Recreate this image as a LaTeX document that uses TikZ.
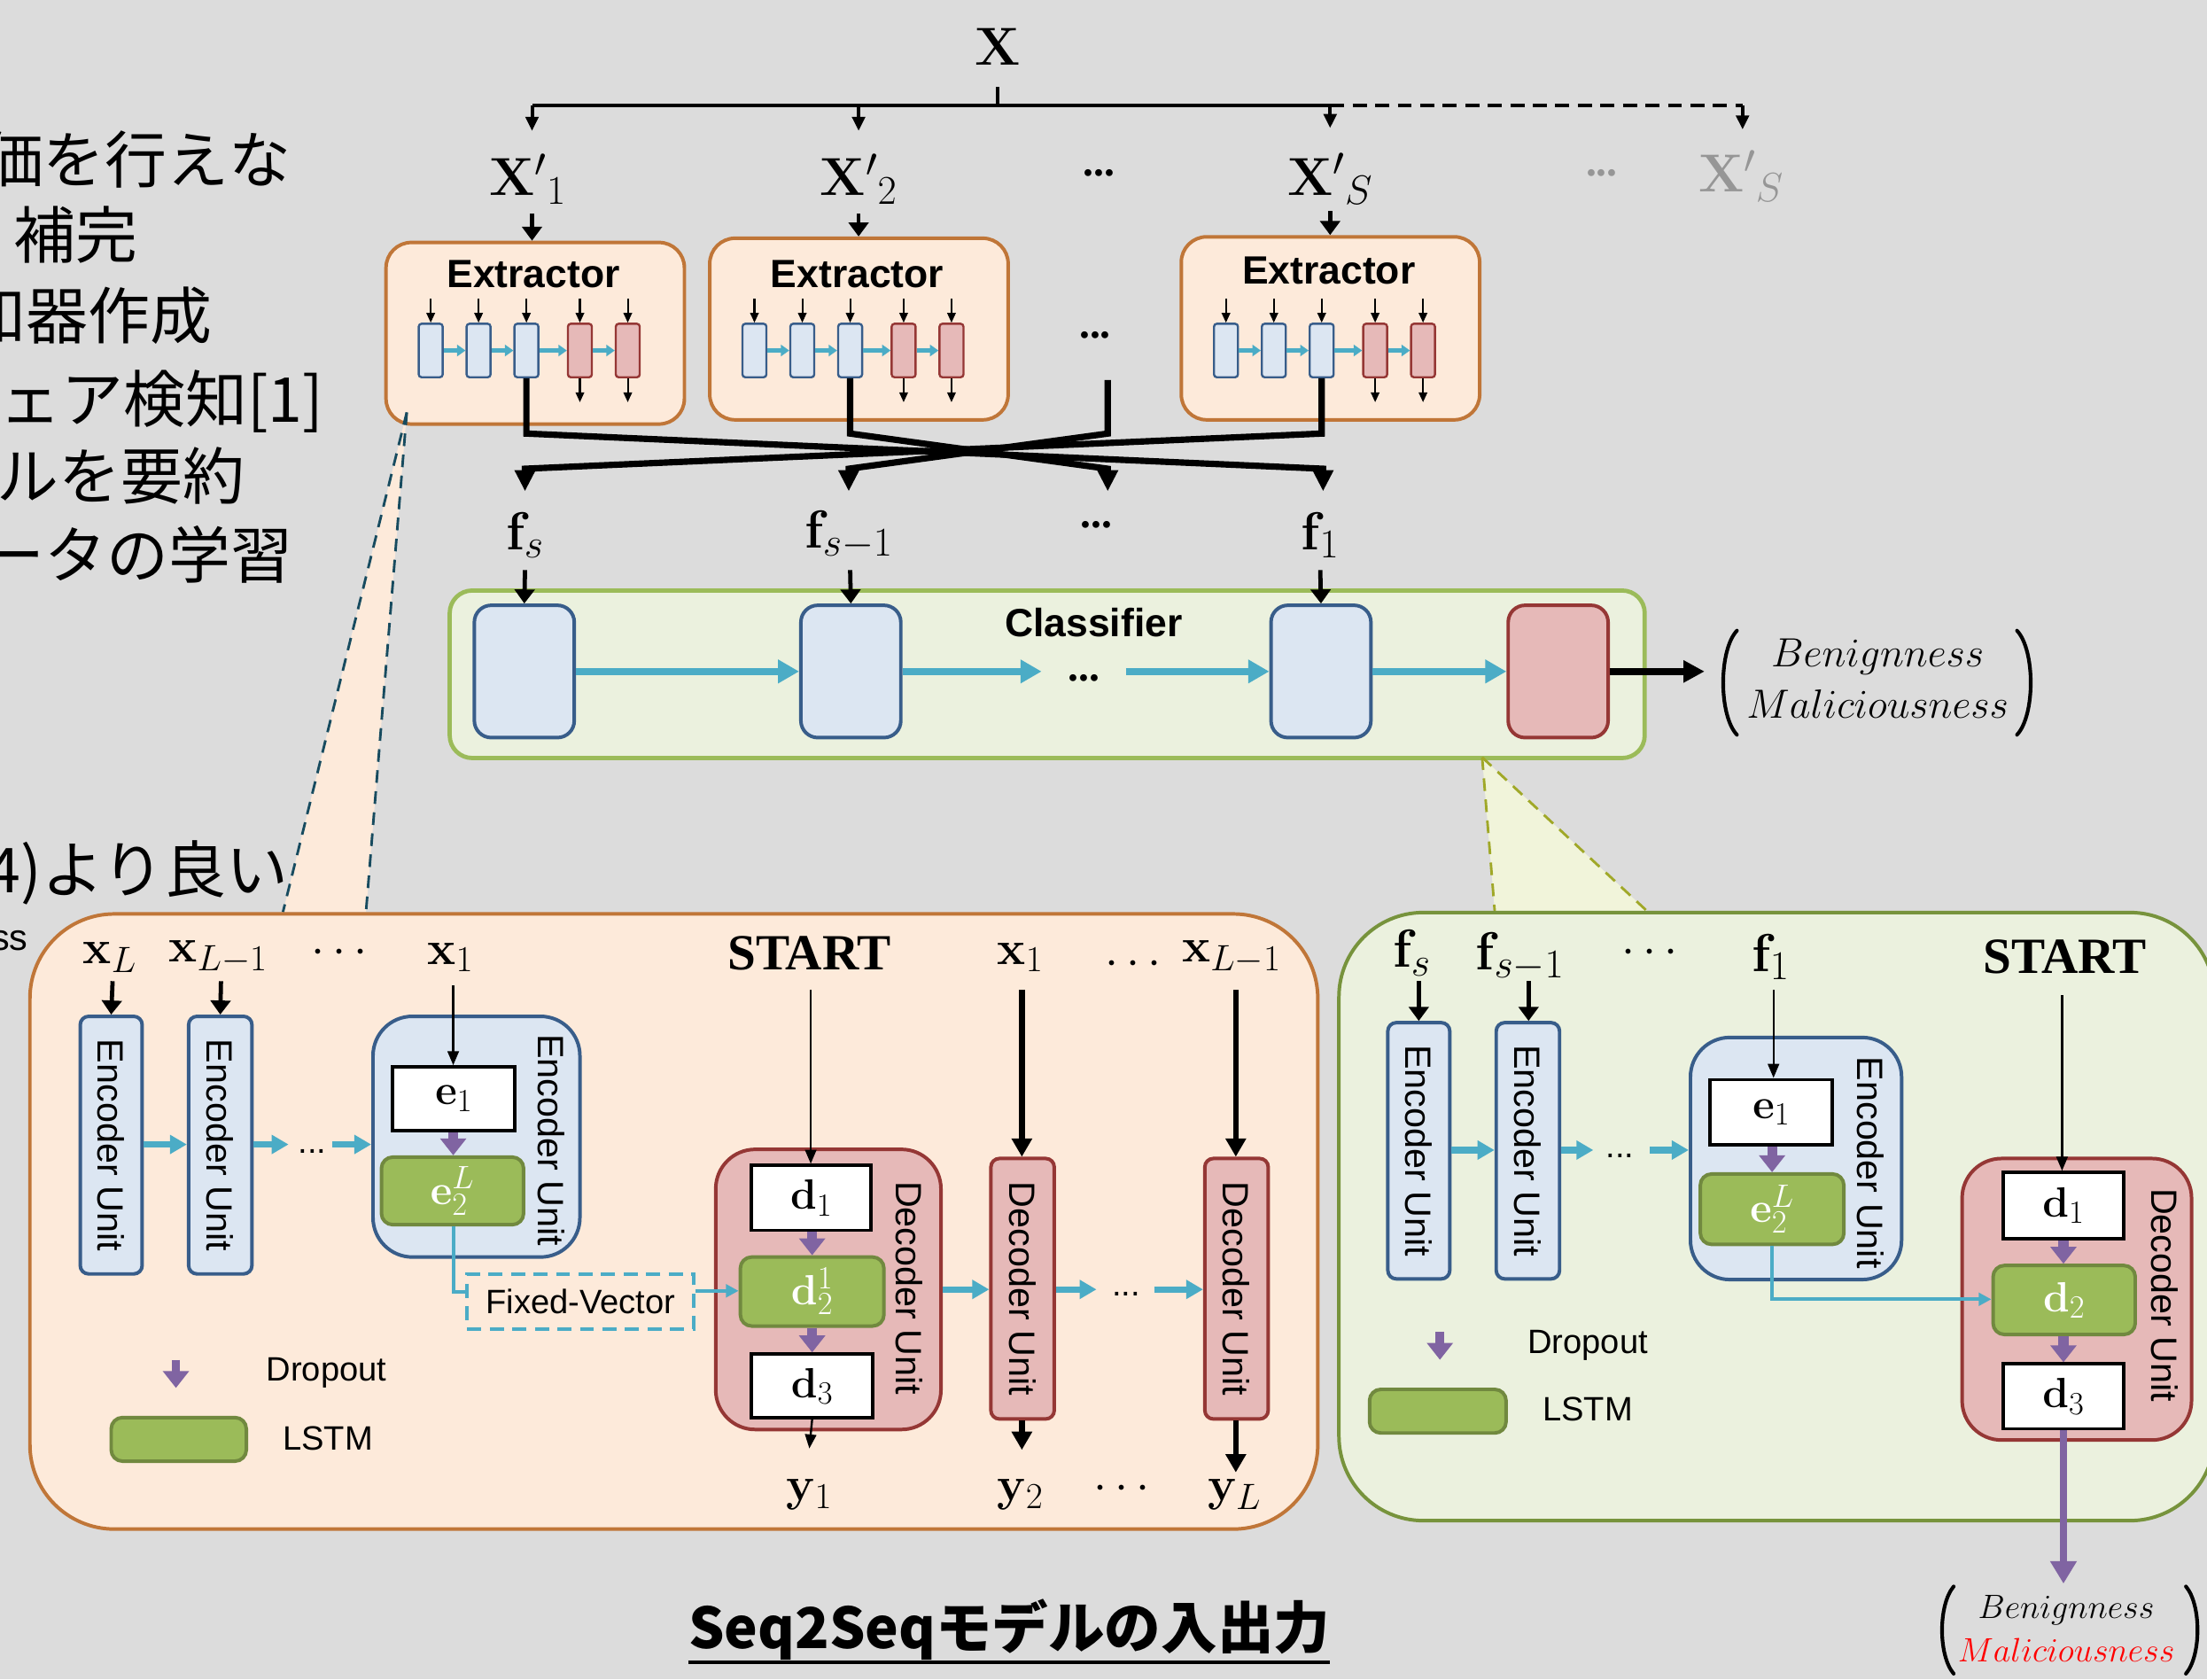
\RequirePackage{fix-cm}
\documentclass[tikz,border=0pt]{standalone}
\usepackage[no-math]{fontspec}
\usepackage{graphicx}
\setmainfont{Liberation Sans}
\newfontfamily\jpfont{Noto Sans CJK JP}
\newfontfamily\serifm{Liberation Serif}
\usetikzlibrary{arrows.meta}
\DeclareMathSizes{38}{38}{29}{22}
\DeclareMathSizes{34}{34}{26}{20}
\DeclareMathSizes{30}{30}{23}{18}
\DeclareMathSizes{29}{29}{22}{17}
\DeclareMathSizes{24}{24}{18}{14}

\definecolor{bgc}{RGB}{220,220,220}
\definecolor{peach}{RGB}{253,234,218}
\definecolor{orangeB}{RGB}{192,118,56}
\definecolor{greenF}{RGB}{235,241,222}
\definecolor{greenB}{RGB}{155,187,89}
\definecolor{greenD}{RGB}{119,147,60}
\definecolor{lstmF}{RGB}{155,187,89}
\definecolor{lstmB}{RGB}{113,137,63}
\definecolor{blueF}{RGB}{220,230,242}
\definecolor{blueB}{RGB}{56,93,138}
\definecolor{redF}{RGB}{230,185,184}
\definecolor{redB}{RGB}{149,55,53}
\definecolor{cyanA}{RGB}{75,172,198}
\definecolor{purpA}{RGB}{128,100,162}
\definecolor{tealD}{RGB}{23,75,95}
\definecolor{oliveD}{RGB}{160,168,40}
\definecolor{fanG}{RGB}{241,244,218}
\definecolor{greyX}{RGB}{150,150,150}

\newcommand\fsz[1]{\fontsize{#1}{#1}\selectfont}
\newcommand\bdots{{\serifm\bfseries ...}}

\begin{document}
\begin{tikzpicture}[x=1pt,y=-1pt,
  lab/.style={inner sep=0pt,font=\fsz{38}},
  labs/.style={inner sep=0pt,font=\fsz{34}},
  sans/.style={inner sep=0pt,font=\fsz{24}},
  jp/.style={inner sep=0pt,font=\jpfont\fsz{44},anchor=east},
  extbox/.style={draw=orangeB,fill=peach,line width=2.5pt,rounded corners=18pt,minimum width=212pt,anchor=north west,inner sep=0pt},
  mblue/.style={draw=blueB,fill=blueF,line width=1.5pt,rounded corners=2pt,minimum width=17pt,minimum height=38pt,inner sep=0pt},
  mred/.style={mblue,draw=redB,fill=redF},
  cblue/.style={draw=blueB,fill=blueF,line width=2.5pt,rounded corners=12pt,minimum width=71pt,minimum height=94pt,inner sep=0pt},
  cred/.style={cblue,draw=redB,fill=redF},
  encsmall/.style={draw=blueB,fill=blueF,line width=2.5pt,rounded corners=6pt,minimum width=44pt,minimum height=183pt,inner sep=0pt,font=\fsz{26}},
  decsmall/.style={encsmall,draw=redB,fill=redF},
  bigenc/.style={draw=blueB,fill=blueF,line width=2.5pt,rounded corners=28pt,inner sep=0pt},
  bigdec/.style={bigenc,draw=redB,fill=redF},
  whitebox/.style={draw=black,fill=white,line width=2.5pt,inner sep=0pt,font=\fsz{30}},
  lstm/.style={draw=lstmB,fill=lstmF,line width=2.5pt,rounded corners=8pt,inner sep=0pt,font=\fsz{30},text=white},
  unitlab/.style={inner sep=0pt,font=\fsz{26}},
  paren/.style={line width=2.6pt,line cap=round},
  tree/.style={line width=2.5pt},
  treearr/.style={line width=2.5pt,-{Triangle[width=9pt,length=10pt]}},
  tinyarr/.style={line width=1.3pt,-{Triangle[width=6pt,length=7pt]}},
  tinycy/.style={draw=cyanA,line width=3pt,-{Triangle[width=8pt,length=6pt]}},
  thin/.style={line width=1.5pt,-{Triangle[width=8pt,length=10pt]}},
  medarr/.style={line width=3pt,-{Triangle[width=14pt,length=10pt]}},
  thickarr/.style={line width=4pt,-{Triangle[width=14pt,length=13pt]}},
  crossarr/.style={line width=4.5pt,line join=miter,-{Triangle[width=14pt,length=15pt]}},
  cyarr/.style={draw=cyanA,line width=4.5pt,-{Triangle[width=13pt,length=12pt]}},
  cyarrL/.style={draw=cyanA,line width=5pt,-{Triangle[width=16pt,length=15pt]}},
  cyline/.style={draw=cyanA,line width=2.5pt},
  cythin/.style={cyline,-{Triangle[width=9pt,length=9pt]}},
  purarr/.style={draw=purpA,line width=7pt,-{Triangle[width=18pt,length=12pt]}},
]
\useasboundingbox (0,0) rectangle (1568,1193);
\clip (0,0) rectangle (1568,1193);
\fill[bgc] (0,0) rectangle (1568,1193);

% ---------- input splitting ----------
\node[lab] (X) at (709,33) {$\mathbf{X}$};
\coordinate (tj) at (709,75);
\coordinate (t1) at (378,75);
\coordinate (t2) at (610,75);
\coordinate (t3) at (945,75);
\coordinate (t4) at (1238,75);
\draw[tree] (709,62) -- (tj);
\draw[tree] (t1) -- (t3);
\draw[tree,dash pattern=on 10pt off 6pt] (t3) -- (t4);
\draw[treearr] (t1) -- (378,93);
\draw[treearr] (t2) -- (610,93);
\draw[treearr] (t3) -- (945,91);
\draw[treearr] (t4) -- (1238,92);

\node[lab] (xp1) at (375,127) {${\mathbf{X}'}_1$};
\node[lab] (xp2) at (610,127) {${\mathbf{X}'}_2$};
\node[inner sep=0pt,font=\fsz{30}] (xpd) at (781,123) {\bdots};
\node[lab] (xps) at (945,127) {${\mathbf{X}'}_S$};
\node[inner sep=0pt,font=\fsz{30},text=greyX] (xpd2) at (1138,123) {\bdots};
\node[lab,text=greyX] (xps2) at (1237,125) {${\mathbf{X}'}_S$};

% ---------- extractors ----------
\foreach \n/\l/\t/\h/\ty in {1/273/171/129/195,2/503/168/129/195,3/838/167/130/192}{
  \node[extbox,minimum height=\h pt] (E\n) at (\l,\t) {};
  \node[inner sep=0pt,font=\fsz{28}\bfseries] (E\n-t) at (\l+106,\ty) {Extractor};
  \foreach \k/\dx in {1/33,2/67,3/101}{
    \node[mblue] (E\n-b\k) at (\l+\dx,249) {};
  }
  \foreach \k/\dx in {4/139,5/173}{
    \node[mred] (E\n-b\k) at (\l+\dx,249) {};
    \draw[tinyarr] (E\n-b\k.south) -- ([yshift=-17pt]E\n-b\k.south);
  }
  \foreach \k in {1,...,5}{
    \draw[tinyarr] ([yshift=17pt]E\n-b\k.north) -- (E\n-b\k.north);
  }
  \foreach \a/\b in {1/2,2/3,3/4,4/5}{
    \draw[tinycy] (E\n-b\a.east) -- (E\n-b\b.west);
  }
}
\draw[medarr] (378,152) -- (E1.north -| 378,0);
\draw[medarr] (610,152) -- (E2.north -| 610,0);
\draw[medarr] (945,150) -- (E3.north -| 945,0);
\node[inner sep=0pt,font=\fsz{30}] (edots) at (778,238) {\bdots};

% crossing feature lines
\draw[crossarr] (E1-b3.south) -- (374,308) -- (940,333) -- (940,349);
\draw[crossarr] (E2-b3.south) -- (604,308) -- (787,333) -- (787,349);
\draw[crossarr] (787,270) -- (787,308) -- (603,333) -- (603,349);
\draw[crossarr] (E3-b3.south) -- (939,308) -- (373,333) -- (373,349);

\node[lab] (fs) at (373,380) {$\mathbf{f}_s$};
\node[lab] (fs1) at (603,380) {$\mathbf{f}_{s-1}$};
\node[inner sep=0pt,font=\fsz{30}] (fdots) at (779,373) {\bdots};
\node[lab] (f1) at (938,380) {$\mathbf{f}_1$};

% ---------- classifier ----------
\node[draw=greenB,fill=greenF,line width=3pt,rounded corners=16pt,minimum width=849pt,minimum height=119pt,anchor=north west,inner sep=0pt] (cls) at (318,418) {};
\node[inner sep=0pt,font=\fsz{28}\bfseries] (clsT) at (777,442) {Classifier};
\node[cblue] (c1) at (372.5,477) {};
\node[cblue] (c2) at (604.5,477) {};
\node[cblue] (c3) at (938.5,477) {};
\node[cred] (c4) at (1107,477) {};
\draw[medarr] (373,405) -- (c1.north);
\draw[medarr] (604,405) -- (c2.north);
\draw[medarr] (938,405) -- (c3.north);
\draw[cyarrL] (c1.east) -- (c2.west);
\draw[cyarrL] (c2.east) -- (740,477);
\node[inner sep=0pt,font=\fsz{30}] (cdots) at (770,482) {\bdots};
\draw[cyarrL] (800,477) -- (c3.west);
\draw[cyarrL] (c3.east) -- (c4.west);
\coordinate (cout) at (1211,477);
\draw[line width=5pt,-{Triangle[width=15pt,length=15pt]}] (c4.east) -- (cout);
\node[inner sep=0pt,font=\fontsize{29}{37}\selectfont,align=center] (res1) at (1334,482)
  {$Benignness$\\$Maliciousness$};
\draw[paren] (1234,448) .. controls (1221,462) and (1221,508) .. (1234,522);
\draw[paren] (1433,448) .. controls (1446,462) and (1446,508) .. (1433,522);

% ---------- zoom fans ----------
\fill[peach] (289,293) -- (201,648) -- (260,648) -- cycle;
\draw[tealD,line width=1.8pt,dash pattern=on 9pt off 6pt] (289,293) -- (201,648);
\draw[tealD,line width=1.8pt,dash pattern=on 9pt off 6pt] (289,293) -- (260,648);
\fill[fanG] (1053,538) -- (1062,648) -- (1171,648) -- cycle;
\draw[oliveD,line width=1.8pt,dash pattern=on 9pt off 6pt] (1053,538) -- (1062,648);
\draw[oliveD,line width=1.8pt,dash pattern=on 9pt off 6pt] (1053,538) -- (1171,648);

% ---------- side text ----------
\node[jp] (j1) at (207,113) {価を行えな};
\node[jp] (j2) at (98,167) {補完};
\node[jp] (j3) at (151,224) {知器作成};
\node[jp] (j4) at (230,285) {ウェア検知[1]};
\node[jp] (j5) at (174,338) {ルを要約};
\node[jp] (j6) at (208,394) {ータの学習};
\node[jp] (j7) at (205,620) {4)より良い};
\node[inner sep=0pt,font=\fsz{26},anchor=east] (j8) at (20,668) {ss};

% ---------- big panels ----------
\node[draw=orangeB,fill=peach,line width=2.5pt,rounded corners=60pt,minimum width=915pt,minimum height=437pt,anchor=north west,inner sep=0pt] (lbox) at (20,648) {};
\node[draw=greenD,fill=greenF,line width=2.5pt,rounded corners=60pt,minimum width=622pt,minimum height=432pt,anchor=north west,inner sep=0pt] (rbox) at (950,647) {};

% ---------- Seq2Seq autoencoder (left panel) ----------
\node[labs] (xL) at (78,680) {$\mathbf{x}_L$};
\node[labs] (xL1) at (155,680) {$\mathbf{x}_{L-1}$};
\node[labs] (xdots) at (241,677) {$\cdots$};
\node[labs] (xa1) at (320,680) {$\mathbf{x}_1$};
\node[encsmall] (eu1) at (79,813.5) {\rotatebox{-90}{Encoder Unit}};
\node[encsmall,minimum width=45pt] (eu2) at (156.5,813.5) {\rotatebox{-90}{Encoder Unit}};
\draw[medarr] (80,697) -- (eu1.north);
\draw[medarr] (157,697) -- (eu2.north);
\node[bigenc,minimum width=147pt,minimum height=171pt] (ebig) at (338.5,807.5) {};
\node[unitlab] (ebigT) at (392,810) {\rotatebox{-90}{Encoder Unit}};
\draw[cyarr] (eu1.east |- 0,813) -- (eu2.west |- 0,813);
\draw[cyarr] (eu2.east |- 0,813) -- (205,813);
\node[sans] (edots2) at (222,818) {...};
\draw[cyarr] (236,813) -- (ebig.west |- 0,813);
\node[whitebox,minimum width=87pt,minimum height=45pt] (le1) at (322.5,780.5) {$\mathbf{e}_1$};
\node[lstm,minimum width=101pt,minimum height=48pt] (le2) at (321.5,846) {$\mathbf{e}_2^L$};
\draw[thin] (322,700) -- (le1.north -| 322,0);
\draw[purarr] (le1.south -| 322,0) -- (le2.north -| 322,0);
\node[draw=cyanA,line width=2.5pt,dash pattern=on 10pt off 6pt,minimum width=161pt,minimum height=39pt,inner sep=0pt,font=\fsz{24}] (fv) at (412.5,924.5) {Fixed-Vector};
\draw[cyline] (le2.south -| 322,0) -- (322,918) -- (fv.west |- 0,918);
\node[bigdec,minimum width=160pt,minimum height=199pt] (dbig) at (588.5,916) {};
\node[unitlab] (dbigT) at (646,915) {\rotatebox{-90}{Decoder Unit}};
\node[whitebox,minimum width=85pt,minimum height=46pt] (ld1) at (576.5,851) {$\mathbf{d}_1$};
\node[lstm,minimum width=102pt,minimum height=49pt] (ld2) at (577,917.5) {$\mathbf{d}_2^1$};
\node[whitebox,minimum width=86pt,minimum height=45pt] (ld3) at (577,984.5) {$\mathbf{d}_3$};
\draw[cythin] (fv.east |- 0,917) -- (ld2.west |- 0,917);
\draw[purarr] (ld1.south -| 577,0) -- (ld2.north -| 577,0);
\draw[purarr] (ld2.south -| 577,0) -- (ld3.north -| 577,0);
\node[inner sep=0pt,font=\serifm\bfseries\fsz{36}] (st1) at (575,677) {START};
\draw[thin] (576,703) -- (ld1.north -| 576,0);
\coordinate (ly1) at (575,1029);
\draw[thin] (ld3.south -| 577,0) -- (ly1);
\node[labs] (xb1) at (725,680) {$\mathbf{x}_1$};
\node[labs] (xbdots) at (805,685) {$\cdots$};
\node[labs] (xbL1) at (875,680) {$\mathbf{x}_{L-1}$};
\node[decsmall,minimum width=45pt,minimum height=185pt] (du2) at (726.5,915.5) {\rotatebox{-90}{Decoder Unit}};
\node[decsmall,minimum width=45pt,minimum height=185pt] (du3) at (878.5,915.5) {\rotatebox{-90}{Decoder Unit}};
\draw[thickarr] (726,703) -- (du2.north -| 726,0);
\draw[thickarr] (878,703) -- (du3.north -| 878,0);
\draw[cyarr] (dbig.east |- 0,916) -- (du2.west |- 0,916);
\draw[cyarr] (du2.east |- 0,916) -- (779,916);
\node[sans] (ddots) at (800,919) {...};
\draw[cyarr] (820,916) -- (du3.west |- 0,916);
\coordinate (ly2) at (726,1030);
\coordinate (lyL) at (878,1046);
\draw[thickarr] (du2.south -| 726,0) -- (ly2);
\draw[thickarr] (du3.south -| 878,0) -- (lyL);
\node[labs] (y1) at (575,1062) {$\mathbf{y}_1$};
\node[labs] (y2) at (725,1062) {$\mathbf{y}_2$};
\node[labs] (ydots) at (797,1058) {$\cdots$};
\node[labs] (yL) at (877,1062) {$\mathbf{y}_L$};
% legend
\coordinate (lg1) at (125,966);
\coordinate (lg2) at (125,986);
\draw[purarr,line width=6pt] (lg1) -- (lg2);
\node[sans] (lgD) at (232,975) {Dropout};
\node[lstm,minimum width=96pt,minimum height=31pt] (lgL) at (127,1022.5) {};
\node[sans] (lgT) at (233,1022) {LSTM};

% ---------- classifier detail (right panel) ----------
\node[lab] (rfs) at (1003,677) {$\mathbf{f}_s$};
\node[lab] (rfs1) at (1080,680) {$\mathbf{f}_{s-1}$};
\node[labs] (rfdots) at (1172,677) {$\cdots$};
\node[lab] (rf1) at (1258,680) {$\mathbf{f}_1$};
\node[inner sep=0pt,font=\serifm\bfseries\fsz{36}] (st2) at (1467,680) {START};
\node[encsmall,minimum height=182pt] (reu1) at (1008,817.5) {\rotatebox{-90}{Encoder Unit}};
\node[encsmall,minimum width=45pt,minimum height=182pt] (reu2) at (1085.5,817.5) {\rotatebox{-90}{Encoder Unit}};
\draw[medarr] (1008,697) -- (reu1.north);
\draw[medarr] (1086,697) -- (reu2.north -| 1086,0);
\node[bigenc,minimum width=150pt,minimum height=172pt] (rebig) at (1276,823) {};
\node[unitlab] (rebigT) at (1329,826) {\rotatebox{-90}{Encoder Unit}};
\draw[cyarr] (reu1.east |- 0,817) -- (reu2.west |- 0,817);
\draw[cyarr] (reu2.east |- 0,817) -- (1132,817);
\node[sans] (redots) at (1151,821) {...};
\draw[cyarr] (1172,817) -- (rebig.west |- 0,817);
\node[whitebox,minimum width=87pt,minimum height=46pt] (re1) at (1258.5,790) {$\mathbf{e}_1$};
\node[lstm,minimum width=102pt,minimum height=50pt] (re2) at (1259,859) {$\mathbf{e}_2^L$};
\draw[thin] (1260,703) -- (re1.north -| 1260,0);
\draw[purarr] (re1.south -| 1259,0) -- (re2.north -| 1259,0);
\node[bigdec,minimum width=163pt,minimum height=200pt] (rdbig) at (1475.5,923) {};
\node[unitlab] (rdbigT) at (1538,920) {\rotatebox{-90}{Decoder Unit}};
\node[whitebox,minimum width=86pt,minimum height=47pt] (rd1) at (1466,856.5) {$\mathbf{d}_1$};
\node[lstm,minimum width=101pt,minimum height=49pt] (rd2) at (1466.5,923.5) {$\mathbf{d}_2$};
\node[whitebox,minimum width=86pt,minimum height=46pt] (rd3) at (1466,992) {$\mathbf{d}_3$};
\draw[cythin] (re2.south -| 1259,0) -- (1259,923) -- (rd2.west |- 0,923);
\draw[thin] (1465,707) -- (rd1.north -| 1465,0);
\draw[purarr] (rd1.south -| 1466,0) -- (rd2.north -| 1466,0);
\draw[purarr] (rd2.south -| 1466,0) -- (rd3.north -| 1466,0);
\node[inner sep=0pt,font=\fontsize{24}{31}\selectfont,align=center] (res2) at (1468,1157)
  {$Benignness$\\{\color{red}$Maliciousness$}};
\draw[paren] (1388,1127) .. controls (1377,1140) and (1377,1176) .. (1388,1189);
\draw[paren] (1553,1127) .. controls (1564,1140) and (1564,1176) .. (1553,1189);
\coordinate (rout) at (1466,1125);
\draw[draw=purpA,line width=5pt,-{Triangle[width=18pt,length=16pt]}] (rd3.south -| 1466,0) -- (rout);
% legend
\coordinate (rg1) at (1023,946);
\coordinate (rg2) at (1023,966);
\draw[purarr,line width=6pt] (rg1) -- (rg2);
\node[sans] (rgD) at (1128,956) {Dropout};
\node[lstm,minimum width=97pt,minimum height=31pt] (rgL) at (1021.5,1002.5) {};
\node[sans] (rgT) at (1128,1001) {LSTM};

% ---------- caption ----------
\node[inner sep=0pt,font=\jpfont\bfseries\fsz{40}] (title) at (717,1158) {Seq2Seqモデルの入出力};
\coordinate (ul) at (0,1181);
\draw[line width=2.5pt] (title.west |- ul) -- (title.east |- ul);
\end{tikzpicture}
\end{document}
